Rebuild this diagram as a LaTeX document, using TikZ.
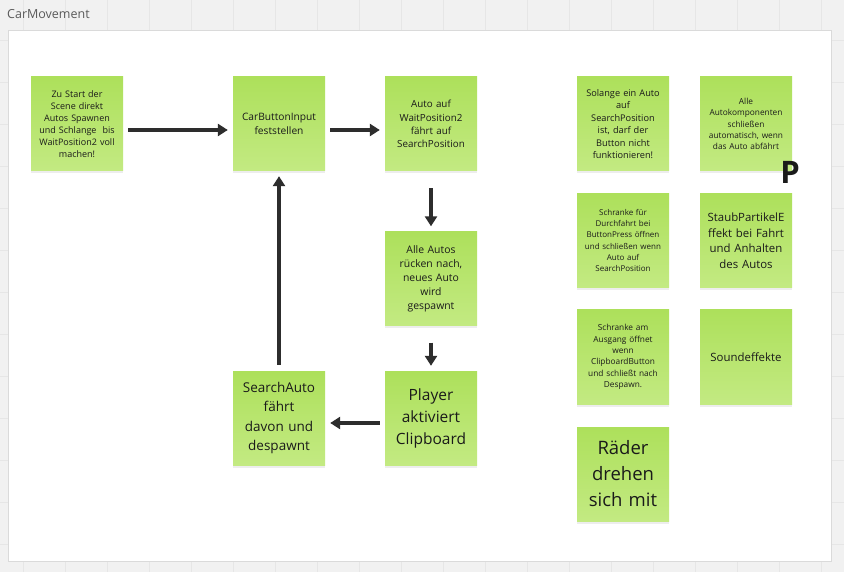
\documentclass[tikz,border=0pt]{standalone}
\usepackage{fontspec}
\setmainfont{Open Sans}
\usetikzlibrary{arrows.meta,shadows}
\definecolor{bg}{HTML}{F1F1F1}
\definecolor{gridc}{HTML}{E6E6E6}
\definecolor{boardline}{HTML}{DADADA}
\definecolor{stickytop}{HTML}{ADE05B}
\definecolor{stickybot}{HTML}{C3EA82}
\definecolor{ink}{HTML}{1A1A1A}
\definecolor{arrc}{HTML}{2D2D2D}
\definecolor{titlec}{HTML}{5A5A5A}
\tikzset{
  sticky/.style={minimum width=92pt, minimum height=94pt, inner sep=3pt,
    top color=stickytop, bottom color=stickybot, draw=none,
    drop shadow={shadow xshift=0pt, shadow yshift=-2.5pt, opacity=0.07, fill=black},
    align=center, text=ink, text width=86pt},
  arr/.style={draw=arrc, line width=3.3pt, -{Triangle[length=10pt,width=12pt]}},
}
\newcommand{\fsz}[2]{\fontsize{#1}{#2}\selectfont}
\begin{document}
\begin{tikzpicture}[x=1pt,y=-1pt]
\useasboundingbox (0,0) rectangle (844,572);
\fill[bg] (0,0) rectangle (844,572);
\foreach \gx in {23,65,...,844} \draw[gridc, line width=0.8pt] (\gx,0) -- (\gx,572);
\foreach \gy in {40,82,...,572} \draw[gridc, line width=0.8pt] (0,\gy) -- (844,\gy);
\node[anchor=base west, text=titlec, font=\fsz{12.5}{15}, inner sep=0pt] (title) at (7,19) {CarMovement};
\draw[boardline, fill=white, line width=0.8pt] (8,30) rectangle (831,561);

\node[sticky, font=\fsz{9}{12}] (n1) at (77,124) {Zu Start der\\Scene direkt\\Autos Spawnen\\und Schlange\ \ bis\\WaitPosition2 voll\\machen!};
\node[sticky, font=\fsz{10.2}{14}] (n2) at (279,124) {CarButtonInput\\feststellen};
\node[sticky, font=\fsz{9.8}{13.3}] (n3) at (431,124) {Auto auf\\WaitPosition2\\fährt auf\\SearchPosition};
\node[sticky, font=\fsz{10.4}{14}] (n4) at (431,278.5) {Alle Autos\\rücken nach,\\neues Auto\\wird\\gespawnt};
\node[sticky, font=\fsz{15.5}{22}] (n5) at (431,418) {Player\\aktiviert\\Clipboard};
\node[sticky, font=\fsz{13.5}{19.5}] (n6) at (279,418) {SearchAuto\\fährt\\davon und\\despawnt};

\node[sticky, font=\fsz{9.2}{12.4}] (n7) at (623,124) {Solange ein Auto\\auf\\SearchPosition\\ist, darf der\\Button nicht\\funktionieren!};
\node[sticky, font=\fsz{8.3}{11.2}] (n8) at (746,124) {Alle\\Autokomponenten\\schließen\\automatisch, wenn\\das Auto abfährt};
\node[sticky, font=\fsz{8}{11.2}] (n9) at (623,240.5) {Schranke für\\Durchfahrt bei\\ButtonPress öffnen\\und schließen wenn\\Auto auf\\SearchPosition};
\node[sticky, font=\fsz{11.4}{15.5}] (n10) at (746,240.5) {StaubPartikelE\\ffekt bei Fahrt\\und Anhalten\\des Autos};
\node[sticky, font=\fsz{8.3}{11.4}] (n11) at (623,357) {Schranke am\\Ausgang öffnet\\wenn\\ClipboardButton\\und schließt nach\\Despawn.};
\node[sticky, font=\fsz{11.4}{15}] (n12) at (746,357) {Soundeffekte};
\node[sticky, font=\fsz{18.5}{26}] (n13) at (623,474) {Räder\\drehen\\sich mit};

\node[font=\fsz{31}{31}\bfseries, text=ink, inner sep=0pt] (p) at (790,172) {P};

\draw[arr] ([xshift=5pt,yshift=-6pt]n1.east) -- ([xshift=-5pt,yshift=-6pt]n2.west);
\draw[arr] ([xshift=5pt,yshift=-6pt]n2.east) -- ([xshift=-5pt,yshift=-6pt]n3.west);
\draw[arr] ([yshift=-17pt]n3.south) -- ([yshift=5pt]n4.north);
\draw[arr] ([yshift=-17pt]n4.south) -- ([yshift=5pt]n5.north);
\draw[arr] ([xshift=-5pt,yshift=-5pt]n5.west) -- ([xshift=5pt,yshift=-5pt]n6.east);
\draw[arr] ([yshift=6pt]n6.north) -- ([yshift=-5pt]n2.south);
\end{tikzpicture}
\end{document}
